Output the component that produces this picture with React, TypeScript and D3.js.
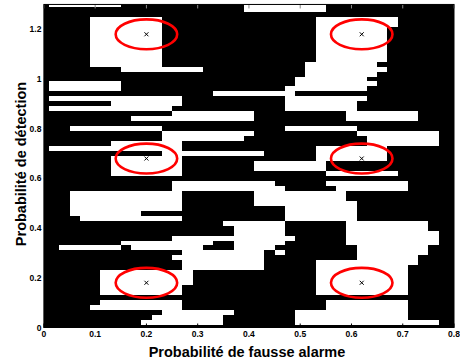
import React from 'react';
import * as d3 from 'd3';

// tick values
const xTickValues = [0, 0.1, 0.2, 0.3, 0.4, 0.5, 0.6, 0.7, 0.8];
const yTickValues = [0, 0.2, 0.4, 0.6, 0.8, 1.0, 1.2];

// image grid: cell (col k, row j) is centred at (0.02*(k+1), 0.02*(j+1))
const cellStep = 0.02;

// white runs of the decision image: [row, firstCol, lastCol]
const whiteRuns: [number, number, number][] = [
  [64, 0, 6], [64, 19, 26],
  [63, 19, 26],
  [61, 4, 10], [61, 26, 33],
  [60, 4, 10], [60, 26, 33],
  [59, 4, 10], [59, 26, 32],
  [58, 4, 10], [58, 26, 32],
  [57, 4, 10], [57, 26, 32],
  [56, 4, 10], [56, 26, 32],
  [55, 4, 10], [55, 26, 32],
  [54, 4, 10], [54, 26, 32],
  [53, 4, 10], [53, 26, 32],
  [52, 4, 10], [52, 25, 31],
  [51, 7, 14], [51, 25, 32],
  [50, 25, 31],
  [49, 24, 30],
  [48, 0, 6], [48, 24, 31],
  [47, 0, 6], [47, 23, 30],
  [46, 16, 23],
  [45, 0, 12], [45, 23, 30],
  [44, 6, 12], [44, 23, 29],
  [43, 0, 11], [43, 23, 29],
  [42, 12, 19], [42, 29, 35],
  [41, 8, 19], [41, 29, 35],
  [39, 2, 10], [39, 23, 29],
  [38, 11, 19], [38, 30, 37],
  [37, 11, 18], [37, 31, 37],
  [36, 6, 12], [36, 31, 37],
  [35, 0, 12], [35, 26, 32],
  [34, 11, 20], [34, 26, 32],
  [33, 6, 12], [33, 26, 32],
  [32, 6, 12], [32, 20, 26],
  [31, 6, 12], [31, 20, 26],
  [30, 6, 12], [30, 27, 33],
  [28, 12, 21], [28, 27, 34],
  [27, 12, 22], [27, 28, 34],
  [26, 2, 12], [26, 20, 28],
  [25, 2, 12], [25, 20, 28],
  [24, 2, 12], [24, 20, 29],
  [23, 2, 12], [23, 23, 29],
  [22, 2, 8], [22, 23, 29],
  [21, 3, 12], [21, 23, 29],
  [20, 17, 22], [20, 29, 36],
  [19, 18, 22], [19, 29, 36],
  [18, 18, 22], [18, 29, 37],
  [17, 12, 23], [17, 29, 37],
  [16, 7, 15], [16, 18, 22], [16, 29, 37],
  [15, 1, 6], [15, 8, 14], [15, 18, 21], [15, 30, 36],
  [14, 13, 20], [14, 22, 22], [14, 30, 36],
  [13, 12, 20], [13, 30, 35],
  [12, 13, 20], [12, 26, 35],
  [11, 13, 20], [11, 26, 34],
  [10, 5, 13], [10, 26, 34],
  [9, 5, 13], [9, 26, 34],
  [8, 5, 13], [8, 26, 34],
  [7, 5, 12], [7, 26, 34],
  [6, 5, 12], [6, 26, 34],
  [4, 5, 12], [4, 27, 34],
  [3, 4, 12], [3, 27, 34],
  [2, 11, 17], [2, 24, 34],
  [1, 10, 16], [1, 24, 34],
  [0, 9, 16], [0, 24, 37],
];

// class centres (x markers) and circle radius in data units
const centreX = [0.2, 0.62];
const centreY = [0.18, 0.68, 1.18];
const circleRadius = 0.06;

const xLabel = 'Probabilité de fausse alarme';
const yLabel = 'Probabilité de détection';

export default function App() {
  const W = 460;
  const H = 363;
  const x = d3.scaleLinear().domain([0, 0.8]).range([43.9, 454]);
  const y = d3.scaleLinear().domain([0, 1.3]).range([327.5, 4.45]);
  const [x0, x1] = x.range();
  const [yb, yt] = y.range();
  const fmt = (v: number) => String(+v.toFixed(1));
  const tickLen = 4;
  const font = '"Liberation Sans", Arial, Helvetica, sans-serif';

  const centres: [number, number][] = [];
  centreY.forEach((cy) => centreX.forEach((cx) => centres.push([cx, cy])));

  return (
    <svg
      width={W}
      height={H}
      style={{ position: 'absolute', left: 0, top: 0, background: '#fff' }}
      fontFamily={font}
    >
      <defs>
        <clipPath id="plotClip">
          <rect x={x0} y={yt} width={x1 - x0} height={yb - yt} />
        </clipPath>
      </defs>
      <rect x={x0} y={yt} width={x1 - x0} height={yb - yt} fill="#000" />
      <g clipPath="url(#plotClip)" shapeRendering="crispEdges">
        {whiteRuns.map(([j, a, b], i) => {
          const left = x(cellStep * (a + 0.5));
          const right = x(cellStep * (b + 1.5));
          const top = y(cellStep * (j + 1.5));
          const bottom = y(cellStep * (j + 0.5));
          return (
            <rect key={i} x={left} y={top} width={right - left} height={bottom - top} fill="#fff" />
          );
        })}
      </g>
      <g clipPath="url(#plotClip)">
        {centres.map(([cx, cy], i) => (
          <g key={i}>
            <ellipse
              cx={x(cx)}
              cy={y(cy)}
              rx={x(circleRadius) - x(0)}
              ry={y(0) - y(circleRadius)}
              fill="none"
              stroke="#f00"
              strokeWidth={2.6}
            />
            <path
              d={`M${x(cx) - 2},${y(cy) - 2}L${x(cx) + 2},${y(cy) + 2}M${x(cx) - 2},${y(cy) + 2}L${x(cx) + 2},${y(cy) - 2}`}
              stroke="#000"
              strokeWidth={1}
            />
          </g>
        ))}
      </g>
      {/* ticks */}
      <g stroke="#000" strokeWidth={1}>
        {xTickValues.map((t) => (
          <g key={t}>
            <line x1={x(t)} x2={x(t)} y1={yb} y2={yb - tickLen} />
            <line x1={x(t)} x2={x(t)} y1={yt} y2={yt + tickLen} stroke="#888" />
          </g>
        ))}
        {yTickValues.map((t) => (
          <g key={t}>
            <line x1={x0} x2={x0 + tickLen} y1={y(t)} y2={y(t)} />
            <line x1={x1} x2={x1 - tickLen} y1={y(t)} y2={y(t)} />
          </g>
        ))}
      </g>
      <rect x={x0} y={yt} width={x1 - x0} height={yb - yt} fill="none" stroke="#000" strokeWidth={1} />
      {/* tick labels */}
      <g fontSize={8.5} fontWeight="bold" fill="#000">
        {xTickValues.map((t) => (
          <text key={t} x={x(t)} y={yb + 9.5} textAnchor="middle">
            {fmt(t)}
          </text>
        ))}
        {yTickValues.map((t) => (
          <text key={t} x={x0 - 2.5} y={y(t) + 3} textAnchor="end">
            {fmt(t)}
          </text>
        ))}
      </g>
      <text x={247} y={357} textAnchor="middle" fontSize={14.5} fontWeight="bold">
        {xLabel}
      </text>
      <text
        transform={`translate(25.5,164) rotate(-90)`}
        textAnchor="middle"
        fontSize={14.5}
        fontWeight="bold"
      >
        {yLabel}
      </text>
    </svg>
  );
}
